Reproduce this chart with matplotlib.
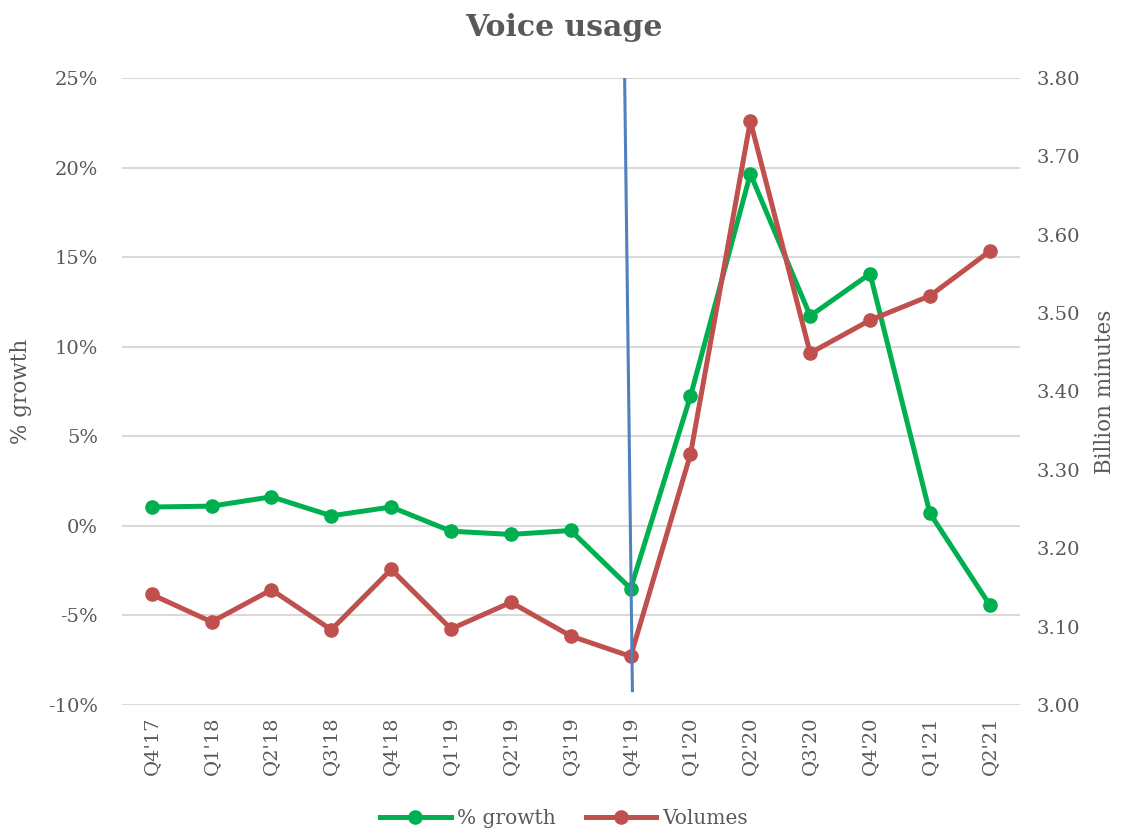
import matplotlib
matplotlib.use("Agg")
import matplotlib.pyplot as plt
from matplotlib.ticker import FuncFormatter

# quarters on the x axis
quarters = ["Q4'17", "Q1'18", "Q2'18", "Q3'18", "Q4'18", "Q1'19", "Q2'19", "Q3'19",
            "Q4'19", "Q1'20", "Q2'20", "Q3'20", "Q4'20", "Q1'21", "Q2'21"]

# % growth (left axis)
growth = [1.05, 1.1, 1.62, 0.56, 1.05, -0.3, -0.48, -0.26,
          -3.5, 7.24, 19.65, 11.72, 14.07, 0.7, -4.42]

# volumes in billion minutes (right axis)
volumes = [3.141, 3.106, 3.147, 3.096, 3.173, 3.097, 3.131, 3.088,
           3.062, 3.320, 3.745, 3.449, 3.491, 3.522, 3.579]

# hand-drawn marker line near Q4'19 (x in category index, y in % growth)
marker_x = [7.9, 8.03]
marker_y = [25, -9.2]

grey = "#595959"
green = "#00b050"
red = "#c0504d"
blue = "#4f81bd"

plt.rcParams["font.family"] = ["DejaVu Serif"]

fig = plt.figure(figsize=(11.28, 8.34), dpi=100)
ax = fig.add_axes([0.108, 0.1547, 0.796, 0.7518])
ax2 = ax.twinx()

x = list(range(len(quarters)))

ax.plot(x, growth, color=green, lw=3.6, marker="o", ms=9.5, label="% growth", zorder=3)
ax2.plot(x, volumes, color=red, lw=3.6, marker="o", ms=9.5, label="Volumes", zorder=3)

ax.set_xlim(-0.5, len(quarters) - 0.5)
ax.set_ylim(-10, 25)
ax.set_yticks(range(-10, 26, 5))
ax.yaxis.set_major_formatter(FuncFormatter(lambda v, p: f"{v:.0f}%"))
ax2.set_ylim(3.0, 3.8)
ax2.set_yticks([3.0 + 0.1 * i for i in range(9)])
ax2.yaxis.set_major_formatter(FuncFormatter(lambda v, p: f"{v:.2f}"))

ax.set_xticks(x)
ax.set_xticklabels(quarters, rotation=90)

ax.grid(axis="y", color="#d9d9d9", lw=1.5)
ax.set_axisbelow(True)
for a in (ax, ax2):
    for s in a.spines.values():
        s.set_visible(False)

ax.tick_params(axis="y", length=0, pad=17, labelsize=14, labelcolor=grey)
ax.tick_params(axis="x", length=0, pad=8, labelsize=14, labelcolor=grey)
ax2.tick_params(axis="y", length=0, pad=12, labelsize=14, labelcolor=grey)

ax.set_ylabel("% growth", color=grey, fontsize=15.5, labelpad=12)
ax2.set_ylabel("Billion minutes", color=grey, fontsize=15.5, labelpad=10)

# blue line above the red series
ax.set_zorder(ax2.get_zorder() - 1)
ax.patch.set_visible(False)
ax2.plot(marker_x, [3.0 + (v + 10) / 35 * 0.8 for v in marker_y], color=blue, lw=2.2, zorder=5)

fig.suptitle("Voice usage", y=0.985, fontsize=21.5, fontweight="bold", color=grey)

h1, l1 = ax.get_legend_handles_labels()
h2, l2 = ax2.get_legend_handles_labels()
fig.legend(h1 + h2, l1 + l2, loc="lower center", bbox_to_anchor=(0.5, -0.015), ncol=2,
           frameon=False, fontsize=14.5, labelcolor=grey, handlelength=3.5,
           handletextpad=0.3, columnspacing=1.5)

fig.savefig("out.png", dpi=100)
